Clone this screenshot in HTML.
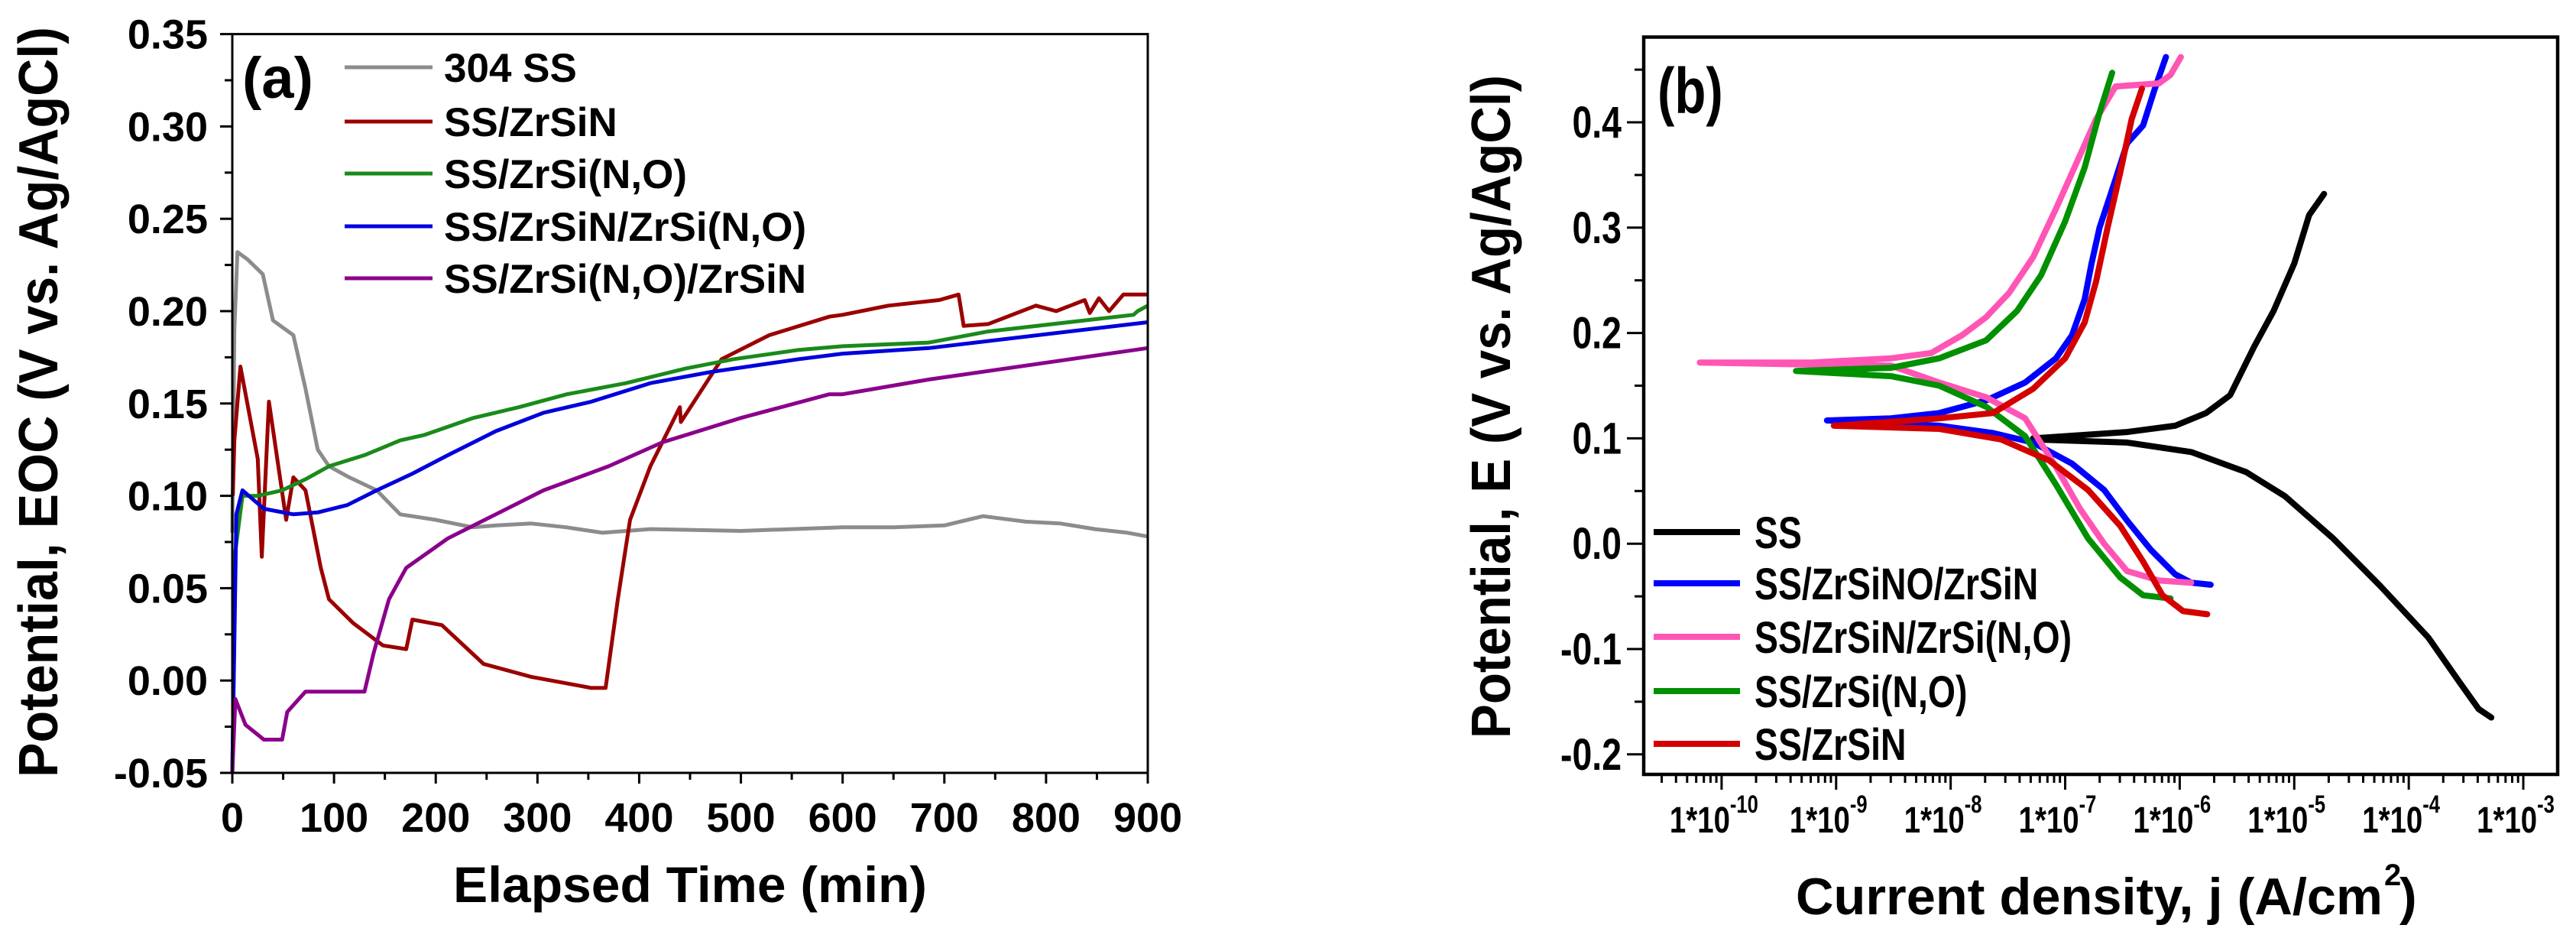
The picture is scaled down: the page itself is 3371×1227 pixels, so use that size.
<!DOCTYPE html>
<html><head><meta charset="utf-8">
<style>
html,body{margin:0;padding:0;background:#fff;}
svg{display:block;}
text{font-family:"Liberation Sans",Arial,sans-serif;font-weight:bold;fill:#000;}
</style></head>
<body>
<svg id="fig" width="3371" height="1227" viewBox="0 0 3371 1227" xmlns="http://www.w3.org/2000/svg">
<g id="pa"></g>
<g id="pb"></g>
</svg>
<script>
// ---------- Panel (a) data ----------
const aNames = ["304 SS","SS/ZrSiN","SS/ZrSi(N,O)","SS/ZrSiN/ZrSi(N,O)","SS/ZrSi(N,O)/ZrSiN"];
const aColors = ["#8c8c8c","#9b0000","#1a8a1a","#0000dd","#8b008b"];
const aXTicks = [0,100,200,300,400,500,600,700,800,900];
const aYTicks = [-0.05,0.00,0.05,0.10,0.15,0.20,0.25,0.30,0.35];
const ssT = [0,2,5,15,30,40,60,72,84,95,115,142,165,200,236,260,294,328,364,411,500,600,650,700,738,780,814,848,880,900];
const ssV = [0.08,0.19,0.232,0.228,0.22,0.195,0.187,0.158,0.125,0.116,0.11,0.103,0.09,0.087,0.083,0.084,0.085,0.083,0.08,0.082,0.081,0.083,0.083,0.084,0.089,0.086,0.085,0.082,0.08,0.078];
const znT = [0.5,2,8,25,29,36,53,60,72,87,95,119,148,171,177,206,247,294,353,367,379,391,411,440,441,481,528,587,600,645,695,714,719,743,790,810,838,843,852,862,876,900];
const znV = [0.1,0.13,0.17,0.12,0.067,0.151,0.087,0.11,0.103,0.061,0.044,0.031,0.019,0.017,0.033,0.03,0.009,0.002,-0.004,-0.004,0.044,0.087,0.116,0.148,0.14,0.174,0.187,0.197,0.198,0.203,0.206,0.209,0.192,0.193,0.203,0.2,0.206,0.199,0.207,0.2,0.209,0.209];
const noT = [0,3,10,25,49,72,95,130,165,189,236,282,329,387,446,493,557,600,685,743,886,890,900];
const noV = [-0.05,0.07,0.1,0.1,0.103,0.109,0.116,0.122,0.13,0.133,0.142,0.148,0.155,0.161,0.169,0.174,0.179,0.181,0.183,0.189,0.198,0.2,0.203];
const nnoT = [0,4,10,31,60,84,113,142,177,212,259,306,353,411,470,557,600,685,900];
const nnoV = [-0.05,0.09,0.103,0.093,0.09,0.091,0.095,0.103,0.112,0.122,0.135,0.145,0.151,0.161,0.167,0.174,0.177,0.18,0.194];
const nonT = [0,3,13,31,49,54,72,130,139,154,171,212,259,306,370,423,499,587,600,685,900];
const nonV = [-0.05,-0.01,-0.024,-0.032,-0.032,-0.017,-0.006,-0.006,0.015,0.044,0.061,0.077,0.09,0.103,0.116,0.129,0.142,0.155,0.155,0.163,0.18];
const aT = [ssT,znT,noT,nnoT,nonT];
const aV = [ssV,znV,noV,nnoV,nonV];

// ---------- Panel (b) data ----------
const bNames = ["SS","SS/ZrSiNO/ZrSiN","SS/ZrSiN/ZrSi(N,O)","SS/ZrSi(N,O)","SS/ZrSiN"];
const bColors = ["#000000","#0000ff","#ff55b5","#009000","#d40000"];
const bXTickExp = [-10,-9,-8,-7,-6,-5,-4,-3];
const bYTicks = [-0.2,-0.1,0.0,0.1,0.2,0.3,0.4];
const bYLabels = ["-0.2","-0.1","0.0","0.1","0.2","0.3","0.4"];
const ssLogJ = [-4.74,-4.87,-5.0,-5.18,-5.35,-5.56,-5.77,-6.04,-6.46,-7.28,-7.28,-6.46,-5.9,-5.42,-5.08,-4.66,-4.25,-3.83,-3.56,-3.39,-3.28];
const ssE = [0.332,0.312,0.266,0.221,0.187,0.141,0.124,0.112,0.106,0.1,0.099,0.096,0.087,0.068,0.045,0.005,-0.04,-0.089,-0.131,-0.157,-0.165];
const bluLogJ = [-6.12,-6.22,-6.32,-6.46,-6.56,-6.7,-6.77,-6.83,-6.94,-7.08,-7.35,-7.69,-8.1,-8.52,-9.08,-8.1,-7.63,-7.28,-6.94,-6.66,-6.46,-6.25,-6.04,-5.9,-5.73];
const bluE = [0.462,0.431,0.397,0.38,0.346,0.3,0.266,0.232,0.198,0.176,0.153,0.136,0.124,0.119,0.117,0.112,0.105,0.096,0.076,0.051,0.022,-0.006,-0.029,-0.037,-0.039];
const pnkLogJ = [-5.99,-6.08,-6.18,-6.56,-6.73,-6.87,-7.08,-7.28,-7.49,-7.69,-7.9,-8.17,-8.52,-9.21,-10.19,-9.21,-8.52,-8.1,-7.69,-7.35,-7.08,-6.87,-6.66,-6.46,-6.18,-5.9];
const pnkE = [0.462,0.445,0.437,0.434,0.403,0.369,0.318,0.272,0.238,0.215,0.198,0.181,0.176,0.172,0.172,0.17,0.169,0.153,0.139,0.119,0.073,0.033,0.0,-0.026,-0.035,-0.037];
const grnLogJ = [-6.59,-6.7,-6.83,-7.0,-7.21,-7.42,-7.69,-8.1,-8.52,-9.35,-8.52,-8.1,-7.69,-7.35,-7.08,-6.8,-6.52,-6.32,-6.08];
const grnE = [0.447,0.409,0.357,0.306,0.255,0.221,0.193,0.176,0.167,0.164,0.159,0.15,0.13,0.102,0.056,0.005,-0.032,-0.049,-0.052];
const redLogJ = [-6.33,-6.42,-6.52,-6.63,-6.73,-6.83,-7.0,-7.28,-7.63,-8.1,-9.02,-8.1,-7.56,-7.14,-6.8,-6.52,-6.32,-6.15,-5.97,-5.76];
const redE = [0.432,0.403,0.352,0.3,0.249,0.21,0.176,0.147,0.124,0.119,0.112,0.109,0.099,0.079,0.051,0.017,-0.017,-0.049,-0.064,-0.067];
const bLogJ = [ssLogJ,bluLogJ,pnkLogJ,grnLogJ,redLogJ];
const bE = [ssE,bluE,pnkE,grnE,redE];

const NS="http://www.w3.org/2000/svg";
function mk(parent,tag,attrs){const e=document.createElementNS(NS,tag);for(const k in attrs)e.setAttribute(k,attrs[k]);parent.appendChild(e);return e;}
// narrow text: scaled horizontally around its anchor
function ntext(parent,x,y,size,anchor){return mk(parent,'text',{x:0,y:0,'font-size':size,'text-anchor':anchor||'start',transform:'translate('+x+','+y+') scale(0.8,1)'});}

// ---------- Panel (a) ----------
(function(){
const g=document.getElementById('pa');
const L=304,R=1502,T=44.6,B=1011;
const X=t=>L+(t-0)/900*(R-L);
const Y=v=>B-(v+0.05)/0.40*(B-T);
for(let i=0;i<aT.length;i++){
  const d=aT[i].map((t,j)=>(j?'L':'M')+X(t).toFixed(1)+' '+Y(aV[i][j]).toFixed(1)).join(' ');
  const p=mk(g,'path',{d:d,fill:'none',stroke:aColors[i],'stroke-width':5,'stroke-linejoin':'round'});
  
  
}
const box=mk(g,'rect',{x:L,y:T,width:R-L,height:B-T,fill:'none',stroke:'#000','stroke-width':3});


for(let t=0;t<=900;t+=50){
  const major=t%100===0;
  mk(g,'line',{x1:X(t),x2:X(t),y1:B,y2:B+(major?14:9),stroke:'#000','stroke-width':3});
}
aXTicks.forEach(t=>{
  const tx=mk(g,'text',{x:X(t),y:1088,'font-size':54,'text-anchor':'middle'});
  tx.textContent=t;
  
  
});
for(let v=-0.05;v<=0.3501;v+=0.025){
  const major=Math.abs(Math.round(v/0.05)*0.05-v)<1e-6;
  mk(g,'line',{x1:L,x2:L-(major?16:10),y1:Y(v),y2:Y(v),stroke:'#000','stroke-width':3});
}
aYTicks.forEach(v=>{
  const tx=mk(g,'text',{x:272,y:Y(v)+19,'font-size':54,'text-anchor':'end'});
  tx.textContent=v.toFixed(2);
  
  
});
const yt=mk(g,'text',{x:0,y:0,'font-size':72,'text-anchor':'middle',transform:'translate(75,526) rotate(-90)',textLength:982,lengthAdjust:'spacingAndGlyphs'});
yt.textContent='Potential, EOC (V vs. Ag/AgCl)';


const xt=mk(g,'text',{x:903,y:1180,'font-size':66,'text-anchor':'middle',textLength:620,lengthAdjust:'spacingAndGlyphs'});
xt.textContent='Elapsed Time (min)';


const lab=mk(g,'text',{x:317,y:128,'font-size':76});
lab.textContent='(a)';


const rows=[88,159,227,296,364];
aNames.forEach((n,i)=>{
  const ln=mk(g,'line',{x1:451,x2:566,y1:rows[i],y2:rows[i],stroke:aColors[i],'stroke-width':5});
  
  
  const tx=mk(g,'text',{x:581,y:rows[i]+19,'font-size':53});
  tx.textContent=n;
  
  
});
})();

// ---------- Panel (b) ----------
(function(){
const g=document.getElementById('pb');
const L=2151,R=3347,T=48.5,B=1013;
const lmin=-10.68,lmax=-2.7;
const X=l=>L+(l-lmin)/(lmax-lmin)*(R-L);
const Y=e=>160+(0.4-e)/0.1*137.8;
for(let i=0;i<bLogJ.length;i++){
  const d=bLogJ[i].map((l,j)=>(j?'L':'M')+X(l).toFixed(1)+' '+Y(bE[i][j]).toFixed(1)).join(' ');
  const p=mk(g,'path',{d:d,fill:'none',stroke:bColors[i],'stroke-width':8,'stroke-linejoin':'round','stroke-linecap':'round'});
  
  
}
const box=mk(g,'rect',{x:L,y:T,width:R-L,height:B-T,fill:'none',stroke:'#000','stroke-width':4.5});


for(let e=-11;e<=-3;e++){
  for(let m=1;m<10;m++){
    const l=e+Math.log10(m);
    if(l<lmin||l>lmax)continue;
    mk(g,'line',{x1:X(l),x2:X(l),y1:B,y2:B+(m===1?20:11),stroke:'#000','stroke-width':3});
  }
}
bXTickExp.forEach(e=>{
  const tx=ntext(g,X(e)-10,1089,48,'middle');
  tx.appendChild(document.createTextNode('1*10'));
  const sp=document.createElementNS(NS,'tspan');
  sp.setAttribute('dy','-26');
  sp.setAttribute('font-size','32');
  sp.textContent=String(e);
  tx.appendChild(sp);
  
  
});
for(let v=-0.2;v<=0.4501;v+=0.05){
  const major=Math.abs(Math.round(v*10)/10-v)<1e-6;
  mk(g,'line',{x1:L,x2:L-(major?22:12),y1:Y(v),y2:Y(v),stroke:'#000','stroke-width':3});
}
bYTicks.forEach((v,i)=>{
  const tx=ntext(g,2122,Y(v)+20,58,'end');
  tx.textContent=bYLabels[i];
  
  
});
const yt=mk(g,'text',{x:0,y:0,'font-size':72,'text-anchor':'middle',transform:'translate(1976,532) rotate(-90)',textLength:868,lengthAdjust:'spacingAndGlyphs'});
yt.textContent='Potential, E (V vs. Ag/AgCl)';


const xt=mk(g,'text',{x:2350,y:1196,'font-size':68,textLength:768,lengthAdjust:'spacingAndGlyphs'});
xt.textContent='Current density, j (A/cm';


const x2=mk(g,'text',{x:3120,y:1158,'font-size':40});
x2.textContent='2';


const x3=mk(g,'text',{x:3140,y:1196,'font-size':68});
x3.textContent=')';


const lab=ntext(g,2169,148,84,'start');
lab.textContent='(b)';


const rows=[696,763,833,904,973];
bNames.forEach((n,i)=>{
  const ln=mk(g,'line',{x1:2164,x2:2277,y1:rows[i],y2:rows[i],stroke:bColors[i],'stroke-width':8});
  
  
  const tx=ntext(g,2296,rows[i]+21,58,'start');
  tx.textContent=n;
  
  
});
})();
</script>
</body></html>
